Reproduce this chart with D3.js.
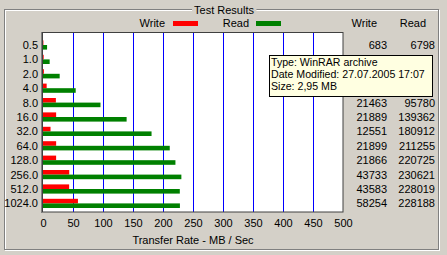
<!DOCTYPE html>
<html><head><meta charset="utf-8">
<script src="https://cdn.jsdelivr.net/npm/d3@7"></script>
<style>
html,body{margin:0;padding:0;background:#D4D0C8;}
svg{display:block;}
text{font-family:"Liberation Sans",Arial,sans-serif;font-size:11px;fill:#000;}
</style></head>
<body>
<script>
// ---- data ----
const categories = ["0.5","1.0","2.0","4.0","8.0","16.0","32.0","64.0","128.0","256.0","512.0","1024.0"];
const writeKB = [683, 1124, 1489, 6100, 21463, 21889, 12551, 21899, 21866, 43733, 43583, 58254];
const readKB  = [6798, 11100, 27800, 54500, 95780, 139362, 180912, 211255, 220725, 230621, 228019, 228188];
const xTicks = [0,50,100,150,200,250,300,350,400,450,500];
const titleText = "Test Results";
const axisTitle = "Transfer Rate - MB / Sec";
const tooltipLines = ["Type: WinRAR archive","Date Modified: 27.07.2005 17:07","Size: 2,95 MB"];

const W = 447, H = 255;
const svg = d3.select("body").append("svg").attr("width", W).attr("height", H);

// group box (etched)
svg.append("rect").attr("x",5.5).attr("y",10.5).attr("width",434).attr("height",240).attr("fill","none").attr("stroke","#fff");
svg.append("rect").attr("x",4.5).attr("y",9.5).attr("width",434).attr("height",240).attr("fill","none").attr("stroke","#808080");
// title with gap
const tt = svg.append("text").attr("x",224).attr("y",14).attr("text-anchor","middle").text(titleText);
const bb = tt.node().getBBox();
svg.insert("rect", "text").attr("x",bb.x-2).attr("y",5).attr("width",bb.width+4).attr("height",9).attr("fill","#D4D0C8");

// scales
const x = d3.scaleLinear().domain([0,500]).range([43,343]);
const y = d3.scaleBand().domain(categories).range([37.8,210.6]).paddingInner(0).paddingOuter(0);

// plot area
svg.append("rect").attr("x",43).attr("y",33).attr("width",300).attr("height",179).attr("fill","#fff");

// gridlines
svg.append("g").selectAll("line").data(xTicks.filter(d=>d>0 && d<500)).join("line")
  .attr("x1",d=>Math.round(x(d))+0.5).attr("x2",d=>Math.round(x(d))+0.5)
  .attr("y1",33).attr("y2",212).attr("stroke","#0000FF").attr("stroke-width",1);

// bars
const bh = 4.6;
svg.append("g").selectAll("rect").data(categories).join("rect")
  .attr("x",x(0)).attr("y",d=>y(d)+y.bandwidth()/2-bh)
  .attr("width",(d,i)=>x(writeKB[i]/1000)-x(0)).attr("height",bh).attr("fill","#FF0000");
svg.append("g").selectAll("rect").data(categories).join("rect")
  .attr("x",x(0)).attr("y",d=>y(d)+y.bandwidth()/2)
  .attr("width",(d,i)=>x(readKB[i]/1000)-x(0)).attr("height",bh).attr("fill","#008000");

// plot border
svg.append("rect").attr("x",42.5).attr("y",32.5).attr("width",300.5).attr("height",179.5)
  .attr("fill","none").attr("stroke","#404040");
svg.append("line").attr("x1",41.5).attr("x2",41.5).attr("y1",32).attr("y2",213).attr("stroke","#808080");

// category labels
svg.append("g").selectAll("text").data(categories).join("text")
  .attr("x",38).attr("y",d=>y(d)+y.bandwidth()/2+4).attr("text-anchor","end").text(d=>d);

// x axis
const ax = svg.append("g").attr("transform","translate(0,220)")
  .call(d3.axisBottom(x).tickValues(xTicks).tickSize(0).tickPadding(0).tickFormat(d3.format("d")));
ax.select(".domain").remove();
ax.selectAll("text").attr("font-family",null).attr("font-size",null).attr("fill",null).attr("dy","0.6em");
svg.append("text").attr("x",193).attr("y",244).attr("text-anchor","middle").text(axisTitle);

// legend
svg.append("text").attr("x",165).attr("y",27).attr("text-anchor","end").text("Write");
svg.append("rect").attr("x",173).attr("y",21).attr("width",25).attr("height",5).attr("fill","#FF0000");
svg.append("text").attr("x",249).attr("y",27).attr("text-anchor","end").text("Read");
svg.append("rect").attr("x",256).attr("y",21).attr("width",25).attr("height",5).attr("fill","#008000");

// tooltip box (covers table rows 1.0–4.0 in the reference)
const tip = {x0:269.5, y0:55.5, w:163, h:41};
const hidden = d => { const cy = y(d)+y.bandwidth()/2; return cy > tip.y0-4 && cy < tip.y0+tip.h+4; };

// table
svg.append("text").attr("x",377).attr("y",27).attr("text-anchor","end").text("Write");
svg.append("text").attr("x",426).attr("y",27).attr("text-anchor","end").text("Read");
const rows = categories.map((c,i)=>({c,i})).filter(r=>!hidden(r.c));
svg.append("g").selectAll("text").data(rows).join("text")
  .attr("x",387).attr("y",r=>y(r.c)+y.bandwidth()/2+4).attr("text-anchor","end").text(r=>writeKB[r.i]);
svg.append("g").selectAll("text").data(rows).join("text")
  .attr("x",435).attr("y",r=>y(r.c)+y.bandwidth()/2+4).attr("text-anchor","end").text(r=>readKB[r.i]);

// tooltip
svg.append("rect").attr("x",tip.x0).attr("y",tip.y0).attr("width",tip.w).attr("height",tip.h)
  .attr("fill","#FFFFE1").attr("stroke","#000");
svg.append("g").selectAll("text").data(tooltipLines).join("text")
  .attr("x",271).attr("y",(d,i)=>65.5+i*12).style("font-size","10.6px").text(d=>d);
</script>
</body></html>
